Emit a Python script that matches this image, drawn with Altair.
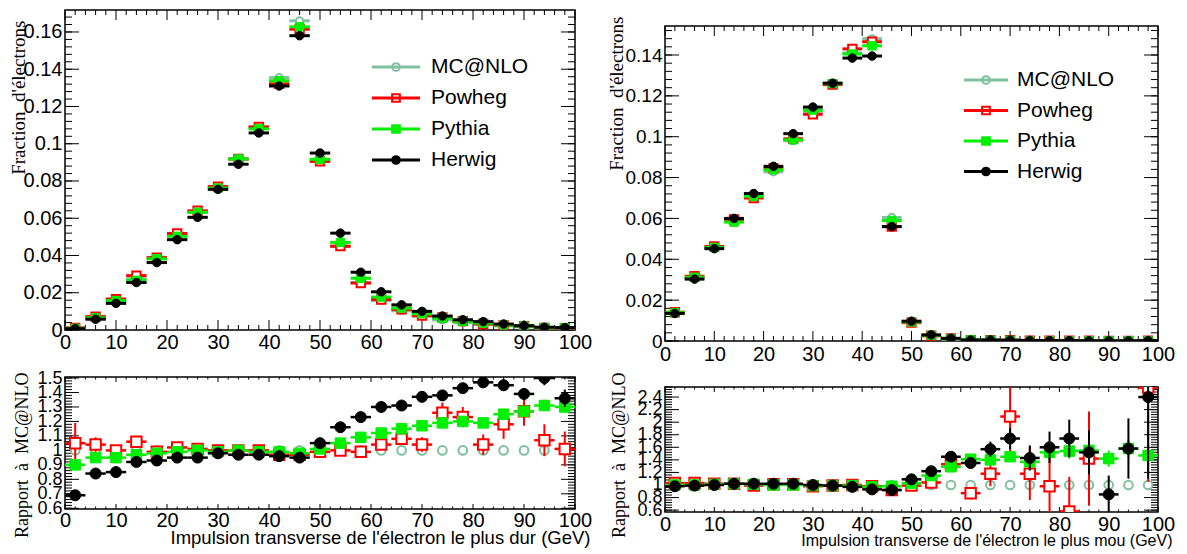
import altair as alt
import pandas as pd

SANS = "Liberation Sans"
SERIF = "Liberation Serif"

# ---------------- data ----------------
CENTERS = [2, 6, 10, 14, 18, 22, 26, 30, 34, 38, 42, 46, 50, 54, 58, 62, 66, 70, 74, 78, 82, 86, 90, 94, 98]
HALF_BIN = 2

SERIES = ["MC@NLO", "Powheg", "Pythia", "Herwig"]
COLORS = ["#80c0a0", "#ff0000", "#00f000", "#000000"]
SHAPES = ["circle", "square", "square", "circle"]
FILLED = [False, False, True, True]

# leading (hard) electron, normalised fractions
hard_mcnlo = [0.0010, 0.0069, 0.0166, 0.0275, 0.0390, 0.0508, 0.0632, 0.0770, 0.0918, 0.1090, 0.1355, 0.1660,
              0.0910, 0.0448, 0.0255, 0.0158, 0.0103, 0.0074, 0.0054, 0.0039, 0.0031, 0.0022, 0.0017, 0.0010, 0.0010]
hard_powheg = [0.0011, 0.0072, 0.0166, 0.0292, 0.0388, 0.0518, 0.0640, 0.0770, 0.0918, 0.1090, 0.1322, 0.1615,
               0.0905, 0.0450, 0.0252, 0.0164, 0.0111, 0.0077, 0.0068, 0.0048, 0.0032, 0.0026, 0.0021, 0.0011, 0.0010]
hard_pythia = [0.0009, 0.0066, 0.0158, 0.0267, 0.0382, 0.0503, 0.0632, 0.0762, 0.0918, 0.1080, 0.1338, 0.1628,
               0.0916, 0.0470, 0.0278, 0.0177, 0.0118, 0.0087, 0.0064, 0.0047, 0.0037, 0.0027, 0.0021, 0.0013, 0.0012]
hard_herwig = [0.0007, 0.0058, 0.0143, 0.0255, 0.0362, 0.0485, 0.0605, 0.0755, 0.0890, 0.1058, 0.1310, 0.1580,
               0.0950, 0.0520, 0.0310, 0.0205, 0.0135, 0.0100, 0.0075, 0.0055, 0.0045, 0.0032, 0.0023, 0.0015, 0.0013]

# ratios to MC@NLO, leading electron
hard_r_mcnlo = [1.0] * 25
hard_r_powheg = [1.05, 1.04, 1.00, 1.06, 0.99, 1.02, 1.01, 1.00, 1.00, 1.00, 0.97, 0.97, 0.99,
                 1.00, 0.99, 1.04, 1.08, 1.04, 1.26, 1.23, 1.04, 1.18, 1.27, 1.07, 1.01]
hard_r_powheg_err = [0.14, 0.05, 0.03, 0.03, 0.02, 0.02, 0.02, 0.02, 0.02, 0.02, 0.02, 0.02, 0.02,
                     0.02, 0.03, 0.03, 0.04, 0.05, 0.07, 0.07, 0.07, 0.10, 0.10, 0.11, 0.12]
hard_r_pythia = [0.90, 0.95, 0.95, 0.97, 0.98, 0.99, 1.00, 0.99, 1.00, 0.99, 0.99, 0.98, 1.01,
                 1.05, 1.09, 1.12, 1.15, 1.17, 1.19, 1.20, 1.19, 1.25, 1.27, 1.31, 1.30]
hard_r_pythia_err = [0.03, 0.01, 0.01, 0.01, 0.01, 0.01, 0.01, 0.01, 0.01, 0.01, 0.01, 0.01, 0.01,
                     0.01, 0.01, 0.015, 0.02, 0.02, 0.02, 0.02, 0.03, 0.03, 0.03, 0.04, 0.04]
hard_r_herwig = [0.69, 0.84, 0.85, 0.92, 0.93, 0.95, 0.95, 0.98, 0.97, 0.97, 0.96, 0.95, 1.05,
                 1.16, 1.23, 1.30, 1.31, 1.37, 1.38, 1.43, 1.47, 1.45, 1.39, 1.50, 1.36]
hard_r_herwig_err = [0.03, 0.01, 0.01, 0.01, 0.01, 0.01, 0.01, 0.01, 0.01, 0.01, 0.01, 0.01, 0.01,
                     0.015, 0.02, 0.02, 0.02, 0.02, 0.03, 0.03, 0.03, 0.04, 0.04, 0.05, 0.06]

# sub-leading (soft) electron, normalised fractions
soft_mcnlo = [0.0138, 0.0310, 0.0455, 0.0585, 0.0705, 0.0828, 0.0980, 0.1125, 0.1262, 0.1410, 0.1480, 0.0605,
              0.0090, 0.0025, 0.0009, 0.0004, 0.0003, 0.0002, 0.0002, 0.0001, 0.0001, 0.0001, 0.0001, 0.0001, 0.0001]
soft_powheg = [0.0141, 0.0317, 0.0463, 0.0595, 0.0700, 0.0845, 0.0990, 0.1110, 0.1255, 0.1430, 0.1465, 0.0560,
               0.0090, 0.0026, 0.0012, 0.0004, 0.0004, 0.0004, 0.0002, 0.0001, 0.0001, 0.0001, 0.0000, 0.0000, 0.0002]
soft_pythia = [0.0139, 0.0312, 0.0458, 0.0582, 0.0708, 0.0838, 0.0985, 0.1130, 0.1260, 0.1405, 0.1445, 0.0590,
               0.0093, 0.0028, 0.0012, 0.0006, 0.0004, 0.0003, 0.0002, 0.0002, 0.0002, 0.0001, 0.0001, 0.0001, 0.0001]
soft_herwig = [0.0135, 0.0303, 0.0452, 0.0600, 0.0722, 0.0855, 0.1015, 0.1145, 0.1262, 0.1385, 0.1395, 0.0560,
               0.0097, 0.0030, 0.0013, 0.0005, 0.0005, 0.0004, 0.0003, 0.0002, 0.0002, 0.0001, 0.0001, 0.0001, 0.0002]

# ratios to MC@NLO, sub-leading electron
soft_r_mcnlo = [1.0] * 25
soft_r_powheg = [1.03, 1.03, 1.02, 1.02, 0.99, 1.01, 1.01, 0.98, 0.99, 1.00, 0.98, 0.92, 0.99,
                 1.04, 1.33, 0.87, 1.18, 2.09, 1.18, 0.98, 0.58, 1.42, 0.00, 0.00, 2.55]
soft_r_powheg_err = [0.02, 0.02, 0.02, 0.02, 0.02, 0.02, 0.02, 0.02, 0.02, 0.02, 0.02, 0.02, 0.02,
                     0.04, 0.07, 0.10, 0.20, 0.55, 0.42, 0.50, 0.55, 0.75, 0.00, 0.00, 1.50]
soft_r_pythia = [1.00, 1.00, 1.01, 1.02, 1.01, 1.00, 1.00, 0.99, 0.99, 0.99, 0.97, 0.98, 1.03,
                 1.15, 1.29, 1.41, 1.40, 1.45, 1.37, 1.52, 1.54, 1.55, 1.42, 1.58, 1.47]
soft_r_pythia_err = [0.01, 0.01, 0.01, 0.01, 0.01, 0.01, 0.01, 0.01, 0.01, 0.01, 0.01, 0.02, 0.02,
                     0.03, 0.05, 0.06, 0.07, 0.08, 0.10, 0.12, 0.12, 0.13, 0.13, 0.15, 0.17]
soft_r_herwig = [0.98, 0.99, 1.00, 1.02, 1.02, 1.02, 1.02, 1.00, 0.99, 0.97, 0.93, 0.92, 1.09,
                 1.22, 1.45, 1.35, 1.57, 1.74, 1.43, 1.60, 1.74, 1.52, 0.85, 1.58, 2.40]
soft_r_herwig_err = [0.01, 0.01, 0.01, 0.01, 0.01, 0.01, 0.01, 0.01, 0.01, 0.01, 0.01, 0.02, 0.03,
                     0.05, 0.06, 0.08, 0.12, 0.17, 0.20, 0.25, 0.30, 0.35, 0.30, 0.48, 1.30]

# axis tick values
X_LABELS = list(range(0, 101, 10))
X_MINOR = [v for v in range(0, 101, 2) if v % 10]


def frange(a, b, step):
    n = int(round((b - a) / step))
    return [round(a + i * step, 4) for i in range(n + 1)]


def series_frame(vals, errs):
    return pd.DataFrame({
        "x": CENTERS,
        "xlo": [c - HALF_BIN for c in CENTERS],
        "xhi": [c + HALF_BIN for c in CENTERS],
        "y": vals,
        "ylo": [v - e for v, e in zip(vals, errs)],
        "yhi": [v + e for v, e in zip(vals, errs)],
    })


LABEL_EXPR = "format(datum.value, '~g')"


def panel(W, H, ydom, ylabels, yminor, ytick, xtick, xax_kw, yax_kw, series, sizes,
          bar_w, ratio=False, legend=None):
    xs = alt.Scale(domain=[0, 100], nice=False, zero=False)
    ys = alt.Scale(domain=ydom, nice=False, zero=False)
    base_ax = dict(ticks=False, domain=False, grid=False, labelFont=SANS, labelColor="black",
                   labelOverlap=False, labelFlush=False, labelBound=False, labelExpr=LABEL_EXPR,
                   titleColor="black", titleFontWeight="normal")
    xax = alt.Axis(orient="bottom", values=X_LABELS, **base_ax, **xax_kw)
    yax = alt.Axis(orient="left", values=ylabels, **base_ax, **yax_kw)
    X = lambda f: alt.X(f, scale=xs, axis=xax)
    Y = lambda f: alt.Y(f, scale=ys, axis=yax)

    layers = []
    # inward ROOT-style ticks on all four sides
    for vals, L in ((X_MINOR, xtick / 2), (X_LABELS, xtick)):
        c = alt.Chart(pd.DataFrame({"v": vals})).mark_rule(color="black", strokeWidth=1)
        layers.append(c.encode(x=X("v:Q"), y=alt.value(H), y2=alt.value(H - L)))
        layers.append(c.encode(x=X("v:Q"), y=alt.value(0), y2=alt.value(L)))
    for vals, L in ((yminor, ytick / 2), (ylabels, ytick)):
        c = alt.Chart(pd.DataFrame({"v": vals})).mark_rule(color="black", strokeWidth=1)
        layers.append(c.encode(y=Y("v:Q"), x=alt.value(0), x2=alt.value(L)))
        layers.append(c.encode(y=Y("v:Q"), x=alt.value(W), x2=alt.value(W - L)))

    for i, (vals, errs) in enumerate(series):
        col = COLORS[i]
        df = series_frame(vals, errs)
        ch = alt.Chart(df)
        is_ref = ratio and i == 0
        if not is_ref:
            layers.append(ch.mark_rule(color=col, strokeWidth=bar_w, clip=True).encode(
                x=X("xlo:Q"), x2="xhi:Q", y=Y("y:Q")))
            if ratio:
                layers.append(ch.mark_rule(color=col, strokeWidth=2, clip=True).encode(
                    x=X("x:Q"), y=Y("ylo:Q"), y2="yhi:Q"))
        fill = col if FILLED[i] else "white"
        layers.append(ch.mark_point(shape=SHAPES[i], filled=True, fill=fill, stroke=col,
                                    strokeWidth=2 if not FILLED[i] else 1, opacity=1,
                                    size=sizes[i], clip=True).encode(x=X("x:Q"), y=Y("y:Q")))

    main = alt.layer(*layers)
    if legend is None:
        return main.properties(width=W, height=H)

    # legend drawn inside the frame
    lx1, lx2, tx, y0, dy = legend
    ldf = pd.DataFrame({
        "series": SERIES,
        "lx1": [lx1] * 4,
        "lx2": [lx2] * 4,
        "mx": [(lx1 + lx2) / 2] * 4,
        "tx": [tx] * 4,
        "ly": [y0 + k * dy for k in range(4)],
    })
    lxs = alt.Scale(domain=[0, W], nice=False, zero=False)
    lys = alt.Scale(domain=[H, 0], nice=False, zero=False)
    LX = lambda f: alt.X(f, scale=lxs, axis=None)
    LY = alt.Y("ly:Q", scale=lys, axis=None)
    lc = alt.Chart(ldf)
    leg_fill = [c if f else "transparent" for c, f in zip(COLORS, FILLED)]
    leg = alt.layer(
        lc.mark_rule(strokeWidth=3).encode(
            x=LX("lx1:Q"), x2="lx2:Q", y=LY,
            color=alt.Color("series:N", scale=alt.Scale(domain=SERIES, range=COLORS), legend=None)),
        lc.mark_point(filled=True, strokeWidth=2, opacity=1, size=60).encode(
            x=LX("mx:Q"), y=LY,
            shape=alt.Shape("series:N", scale=alt.Scale(domain=SERIES, range=SHAPES), legend=None),
            fill=alt.Fill("series:N", scale=alt.Scale(domain=SERIES, range=leg_fill), legend=None),
            stroke=alt.Stroke("series:N", scale=alt.Scale(domain=SERIES, range=COLORS), legend=None)),
        lc.mark_text(align="left", baseline="middle", font=SANS, fontSize=21, color="black").encode(
            x=LX("tx:Q"), y=LY, text="series:N"),
    )
    return alt.layer(main, leg).resolve_scale(x="independent", y="independent").properties(
        width=W, height=H)


TOP_SIZES = [50, 70, 70, 72]
RATIO_SIZES = [75, 110, 110, 121]

# ---- left column (leading electron) ----
LT_W, LT_H = 510, 320
left_top = panel(
    LT_W, LT_H, [0, 0.1718], frange(0, 0.16, 0.02), frange(0, 0.168, 0.004), 14, 10,
    dict(labelFontSize=20, labelPadding=2, title=""),
    dict(labelFontSize=20, labelPadding=3, title="Fraction\u00a0 d'électrons", titleFont=SERIF,
         titleFontSize=19, titleAngle=270, titleAlign="right", titleBaseline="middle",
         titleX=-47, titleY=10),
    [(hard_mcnlo, [0] * 25), (hard_powheg, [0] * 25), (hard_pythia, [0] * 25), (hard_herwig, [0] * 25)],
    TOP_SIZES, 3, legend=(307, 355, 366, 57, 31))

LB_W, LB_H = 510, 132
left_bot = panel(
    LB_W, LB_H, [0.595, 1.507], frange(0.6, 1.5, 0.1), frange(0.6, 1.5, 0.02), 14, 5,
    dict(labelFontSize=20, labelPadding=1,
         title="Impulsion transverse de l'électron le plus dur (GeV)", titleFont=SANS,
         titleFontSize=18.5, titleAlign="right", titleBaseline="middle", titleX=525, titleY=28),
    dict(labelFontSize=18, labelPadding=3, title="Rapport\u00a0 à\u00a0 MC@NLO", titleFont=SERIF,
         titleFontSize=18, titleAngle=270, titleAlign="right", titleBaseline="middle",
         titleX=-43, titleY=-5),
    [(hard_r_mcnlo, [0] * 25), (hard_r_powheg, hard_r_powheg_err),
     (hard_r_pythia, hard_r_pythia_err), (hard_r_herwig, hard_r_herwig_err)],
    RATIO_SIZES, 2.5, ratio=True)

# ---- right column (sub-leading electron) ----
RT_W, RT_H = 493, 315
right_top = panel(
    RT_W, RT_H, [0, 0.1542], frange(0, 0.14, 0.02), frange(0, 0.152, 0.004), 14, 10,
    dict(labelFontSize=20, labelPadding=3, title=""),
    dict(labelFontSize=19, labelPadding=3, title="Fraction\u00a0 d'électrons", titleFont=SERIF,
         titleFontSize=19, titleAngle=270, titleAlign="right", titleBaseline="middle",
         titleX=-49, titleY=-10),
    [(soft_mcnlo, [0] * 25), (soft_powheg, [0] * 25), (soft_pythia, [0] * 25), (soft_herwig, [0] * 25)],
    TOP_SIZES, 3, legend=(299, 343, 352, 54, 30.5))

RB_W, RB_H = 493, 125
right_bot = panel(
    RB_W, RB_H, [0.57, 2.56], frange(0.6, 2.4, 0.2), frange(0.6, 2.56, 0.04), 14, 5,
    dict(labelFontSize=20, labelPadding=2,
         title="Impulsion transverse de l'électron le plus mou (GeV)", titleFont=SANS,
         titleFontSize=16, titleAlign="right", titleBaseline="middle", titleX=507, titleY=28),
    dict(labelFontSize=18, labelPadding=3, title="Rapport\u00a0 à\u00a0 MC@NLO", titleFont=SERIF,
         titleFontSize=18, titleAngle=270, titleAlign="right", titleBaseline="middle",
         titleX=-46, titleY=-15),
    [(soft_r_mcnlo, [0] * 25), (soft_r_powheg, soft_r_powheg_err),
     (soft_r_pythia, soft_r_pythia_err), (soft_r_herwig, soft_r_herwig_err)],
    RATIO_SIZES, 2.5, ratio=True)

spacer = alt.Chart(pd.DataFrame({"a": [0]})).mark_point(opacity=0).encode(
    x=alt.X("a:Q", axis=None), y=alt.Y("a:Q", axis=None)
).properties(width=RT_W, height=16, view=alt.ViewBackground(stroke="transparent"))

left_col = alt.vconcat(left_top, left_bot, spacing=47, bounds="flush")
right_col = alt.vconcat(
    spacer, alt.vconcat(right_top, right_bot, spacing=46, bounds="flush"),
    spacing=0, bounds="flush")

# with flush bounds a nested concat counts as zero width, so the spacing
# spans the left plot width (510) plus the 90px gap between the frames
chart = alt.hconcat(left_col, right_col, spacing=LT_W + 90, bounds="flush").properties(
    padding={"left": 0, "top": 0, "right": 0, "bottom": 0}
).configure(background="white").configure_view(stroke="black", strokeWidth=1.5)

chart.save("out.html", embed_options={"renderer": "svg", "actions": False})
